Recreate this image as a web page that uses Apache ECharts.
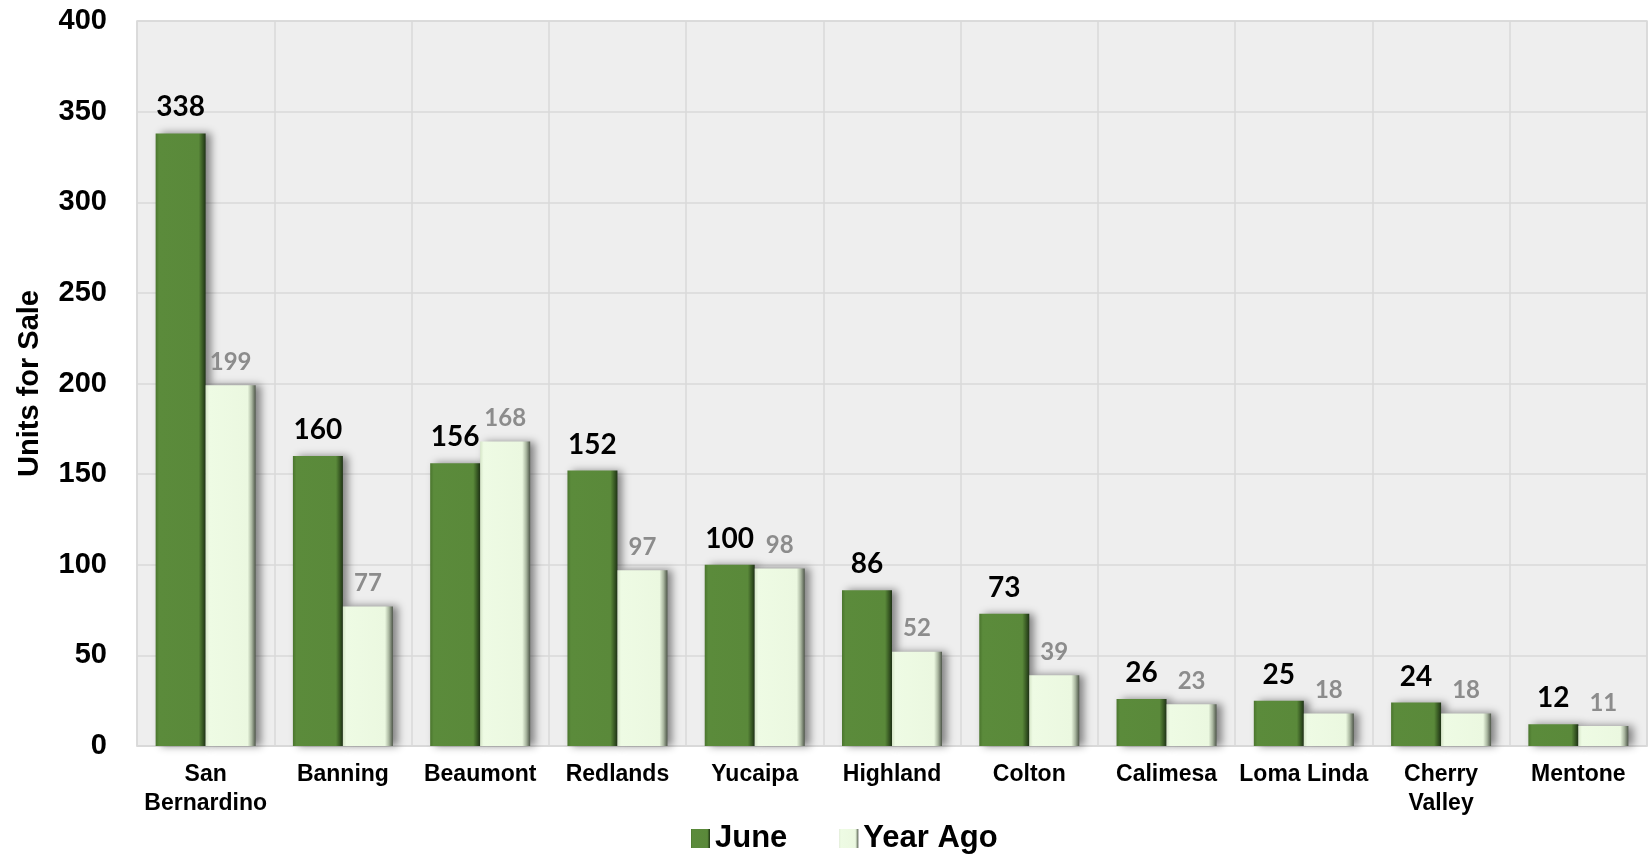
<!DOCTYPE html>
<html>
<head>
<meta charset="utf-8">
<script src="https://cdn.jsdelivr.net/npm/echarts@6/dist/echarts.min.js"></script>
<style>
html,body{margin:0;padding:0;background:#fff;}
#chart{width:1648px;height:854px;}
</style>
</head>
<body>
<div id="chart"></div>
<script>
const categories = ['San\nBernardino','Banning','Beaumont','Redlands','Yucaipa','Highland','Colton','Calimesa','Loma Linda','Cherry\nValley','Mentone'];
const juneValues = [338,160,156,152,100,86,73,26,25,24,12];
const yearAgoValues = [199,77,168,97,98,52,39,23,18,18,11];
const seriesNames = ['June','Year Ago'];
const yTicks = {min:0, max:400, interval:50};

const greenFill = {type:'linear',x:0,y:0,x2:1,y2:0,colorStops:[
  {offset:0,color:'#4a752d'},{offset:0.07,color:'#5b8b3b'},{offset:0.86,color:'#5a893a'},
  {offset:0.93,color:'#3c5f26'},{offset:1,color:'#1f3316'}]};
const lightFill = {type:'linear',x:0,y:0,x2:1,y2:0,colorStops:[
  {offset:0,color:'#d6e6c8'},{offset:0.07,color:'#eefbe4'},{offset:0.84,color:'#ebf8e0'},
  {offset:0.92,color:'#aab7a0'},{offset:1,color:'#4e5649'}]};

const chart = echarts.init(document.getElementById('chart'));
chart.setOption({
  animation:false,
  backgroundColor:'#ffffff',
  grid:{left:137,right:1,top:21,bottom:108,show:true,backgroundColor:'#eeeeee',borderColor:'#d9d9d9',borderWidth:1.5},
  legend:{
    data:seriesNames,
    left:686,top:818,
    itemWidth:19,itemHeight:19,itemGap:52,
    icon:'rect',
    textStyle:{fontFamily:'Liberation Sans, Arial',fontWeight:'bold',fontSize:31,color:'#000',padding:[0,0,0,0]}
  },
  xAxis:{
    type:'category',
    data:categories,
    boundaryGap:true,
    axisLine:{show:true,lineStyle:{color:'#d9d9d9',width:1.5}},
    axisTick:{show:false},
    splitLine:{show:true,lineStyle:{color:'#d9d9d9',width:1.5}},
    axisLabel:{interval:0,margin:14,color:'#000',fontFamily:'Liberation Sans, Arial',fontWeight:'bold',fontSize:23,lineHeight:29}
  },
  yAxis:{
    type:'value',
    min:yTicks.min,max:yTicks.max,interval:yTicks.interval,
    name:'Units for Sale',
    nameLocation:'middle',
    nameGap:93,
    nameTextStyle:{fontFamily:'Liberation Sans, Arial',fontWeight:'bold',fontSize:29,color:'#000'},
    axisLine:{show:false},
    axisTick:{show:false},
    splitLine:{show:true,lineStyle:{color:'#d9d9d9',width:1.5}},
    axisLabel:{margin:30,color:'#000',fontFamily:'Liberation Sans, Arial',fontWeight:'bold',fontSize:29}
  },
  series:[
    {
      name:seriesNames[0],type:'bar',data:juneValues,
      barWidth:50,barGap:'0%',
      itemStyle:{color:greenFill,shadowColor:'rgba(0,0,0,0.45)',shadowBlur:8,shadowOffsetX:5,shadowOffsetY:0},
      label:{show:true,position:'top',distance:12,color:'#000',fontFamily:'Lato, Open Sans',fontWeight:'bold',fontSize:28}
    },
    {
      name:seriesNames[1],type:'bar',data:yearAgoValues,
      barWidth:50,barGap:'0%',
      itemStyle:{color:lightFill,shadowColor:'rgba(0,0,0,0.45)',shadowBlur:8,shadowOffsetX:5,shadowOffsetY:0},
      label:{show:true,position:'top',distance:11,color:'#8c8c8c',fontFamily:'Lato, Open Sans',fontWeight:'bold',fontSize:24}
    }
  ]
});
</script>
</body>
</html>
